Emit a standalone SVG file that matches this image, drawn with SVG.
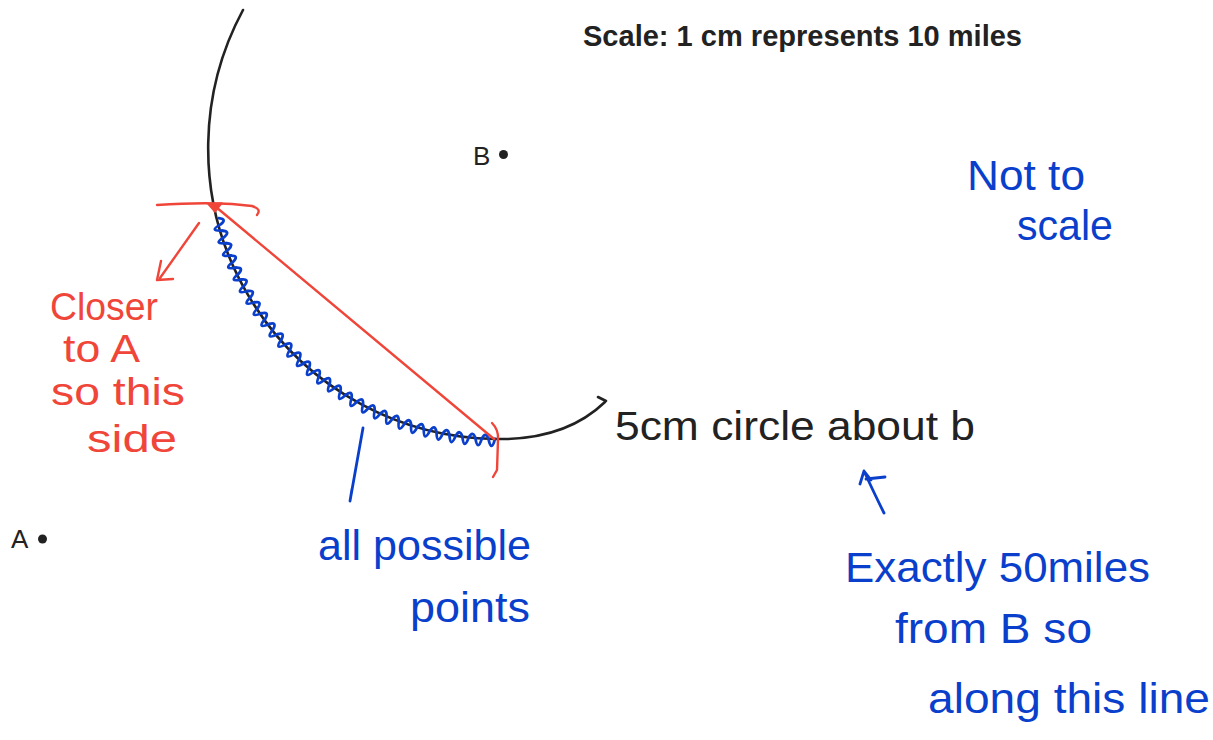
<svg xmlns="http://www.w3.org/2000/svg" xmlns:xlink="http://www.w3.org/1999/xlink" width="1213" height="740" viewBox="0 0 1213 740">
<style>
.ink{fill:none;stroke-linecap:round;stroke-linejoin:round}
.blk{stroke:#222;stroke-width:2.6}
.red{stroke:#f0463a;stroke-width:2.4}
.blu{stroke:#0a3fcc;stroke-width:2.8}
.hw{font-family:"Liberation Sans",Arial,sans-serif;font-weight:normal}
.tr{fill:#f0463a;font-size:38px}
.tb{fill:#0a3fcc;font-size:42px}
.tk{fill:#222;font-size:40px}
.lbl{font-family:"Liberation Sans",Arial,sans-serif;font-size:26px;fill:#222}
</style>
<defs>
<path id="wave" d="M 289 0 Q 303 3.3 289 6.5 Q 281 9.8 289 13.1" class="ink blu"/>
</defs>
<rect width="1213" height="740" fill="#fff"/>
<g id="title">
<text x="583" y="46" font-family="'Liberation Sans',Arial,sans-serif" font-weight="bold" font-size="29" fill="#222" textLength="439" lengthAdjust="spacingAndGlyphs">Scale: 1 cm represents 10 miles</text>
</g>
<g id="pointA">
<text class="lbl" x="11" y="548">A</text>
<circle cx="42.5" cy="539" r="4.5" fill="#222"/>
</g>
<g id="pointB">
<text class="lbl" x="473" y="165">B</text>
<circle cx="503.5" cy="154.5" r="4.5" fill="#222"/>
</g>
<g id="circle-arc">
<path class="ink blk" d="M 243 10 A 291 291 0 0 0 495 439 C 540 440 578 428 605 402 M 598 397 L 606 401"/>
</g>
<g id="possible-points">
<g transform="translate(500,150)">
<use xlink:href="#wave" transform="rotate(91)"/>
<use xlink:href="#wave" transform="rotate(93.6)"/>
<use xlink:href="#wave" transform="rotate(96.2)"/>
<use xlink:href="#wave" transform="rotate(98.8)"/>
<use xlink:href="#wave" transform="rotate(101.4)"/>
<use xlink:href="#wave" transform="rotate(104)"/>
<use xlink:href="#wave" transform="rotate(106.6)"/>
<use xlink:href="#wave" transform="rotate(109.2)"/>
<use xlink:href="#wave" transform="rotate(111.8)"/>
<use xlink:href="#wave" transform="rotate(114.4)"/>
<use xlink:href="#wave" transform="rotate(117)"/>
<use xlink:href="#wave" transform="rotate(119.6)"/>
<use xlink:href="#wave" transform="rotate(122.2)"/>
<use xlink:href="#wave" transform="rotate(124.8)"/>
<use xlink:href="#wave" transform="rotate(127.4)"/>
<use xlink:href="#wave" transform="rotate(130)"/>
<use xlink:href="#wave" transform="rotate(132.6)"/>
<use xlink:href="#wave" transform="rotate(135.2)"/>
<use xlink:href="#wave" transform="rotate(137.8)"/>
<use xlink:href="#wave" transform="rotate(140.4)"/>
<use xlink:href="#wave" transform="rotate(143)"/>
<use xlink:href="#wave" transform="rotate(145.6)"/>
<use xlink:href="#wave" transform="rotate(148.2)"/>
<use xlink:href="#wave" transform="rotate(150.8)"/>
<use xlink:href="#wave" transform="rotate(153.4)"/>
<use xlink:href="#wave" transform="rotate(156)"/>
<use xlink:href="#wave" transform="rotate(158.6)"/>
<use xlink:href="#wave" transform="rotate(161.2)"/>
<use xlink:href="#wave" transform="rotate(163.8)"/>
</g>
</g>
<g id="red-construction">
<path class="ink red" d="M 157 205 Q 200 202 232 204 L 252 206 Q 262 209 257 215"/>
<path class="ink red" d="M 216 207 L 494 439"/>
<path d="M 208 204 L 222 203 L 215 212 Z" fill="#f0463a" stroke="#f0463a" stroke-width="1.5" stroke-linejoin="round"/>
<path class="ink red" d="M 492 423 Q 499 430 498 440 L 497 470 L 493 477"/>
</g>
<g id="connectors">
<path class="ink red" d="M 199 223 L 160 278 M 161 261 L 157 280 L 173 279"/>
<path class="ink blu" d="M 363 428 L 350 501 L 352 489"/>
<path class="ink blu" d="M 884 513 Q 875 495 864 471 M 860 484 L 864 471 L 871 480 M 866 479 L 885 477"/>
</g>
<g id="note-closer">
<text class="hw tr" x="50" y="320" textLength="108" lengthAdjust="spacingAndGlyphs">Closer</text>
<text class="hw tr" x="63" y="362" textLength="77" lengthAdjust="spacingAndGlyphs">to A</text>
<text class="hw tr" x="51" y="405" textLength="134" lengthAdjust="spacingAndGlyphs">so this</text>
<text class="hw tr" x="87" y="452" textLength="90" lengthAdjust="spacingAndGlyphs">side</text>
</g>
<g id="note-scale">
<text class="hw tb" x="967" y="190" textLength="118" lengthAdjust="spacingAndGlyphs">Not to</text>
<text class="hw tb" x="1017" y="240" textLength="96" lengthAdjust="spacingAndGlyphs">scale</text>
</g>
<g id="note-points">
<text class="hw tb" x="318" y="560" font-size="44" textLength="213" lengthAdjust="spacingAndGlyphs">all possible</text>
<text class="hw tb" x="410" y="622" font-size="44" textLength="120" lengthAdjust="spacingAndGlyphs">points</text>
</g>
<g id="note-circle">
<text class="hw tk" x="615" y="440" textLength="360" lengthAdjust="spacingAndGlyphs">5cm circle about b</text>
</g>
<g id="note-exactly">
<text class="hw tb" x="845" y="582" textLength="305" lengthAdjust="spacingAndGlyphs">Exactly 50miles</text>
<text class="hw tb" x="895" y="643" textLength="197" lengthAdjust="spacingAndGlyphs">from B so</text>
<text class="hw tb" x="928" y="713" textLength="282" lengthAdjust="spacingAndGlyphs">along this line</text>
</g>
</svg>
